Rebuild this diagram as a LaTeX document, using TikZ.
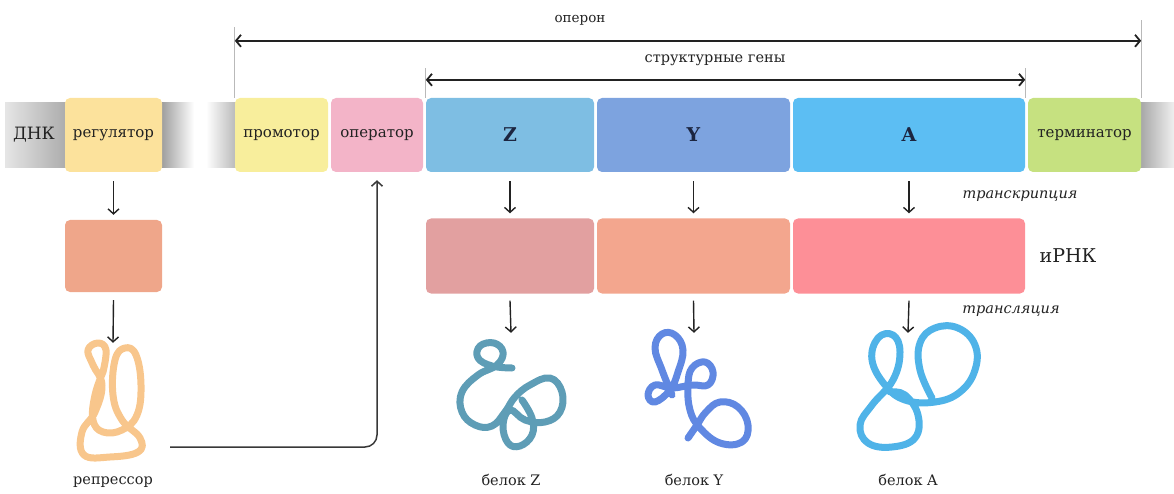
\documentclass[tikz,border=0pt]{standalone}
\usepackage{fontspec}
\setmainfont{DejaVu Serif}
\usetikzlibrary{positioning, arrows.meta}

\definecolor{ink}{HTML}{222222}
\definecolor{regcol}{HTML}{FCE29C}
\definecolor{promcol}{HTML}{F8EE9C}
\definecolor{opercol}{HTML}{F3B4C8}
\definecolor{zcol}{HTML}{7EBEE3}
\definecolor{ycol}{HTML}{7DA3DF}
\definecolor{acol}{HTML}{5CBEF3}
\definecolor{termcol}{HTML}{C6E180}
\definecolor{mregcol}{HTML}{EFA68A}
\definecolor{mzcol}{HTML}{E2A0A0}
\definecolor{mycol}{HTML}{F3A68E}
\definecolor{macol}{HTML}{FD8F97}
\definecolor{repcol}{HTML}{F8C68C}
\definecolor{protzcol}{HTML}{5E9DB6}
\definecolor{protycol}{HTML}{6088E2}
\definecolor{protacol}{HTML}{4FB3E8}
\definecolor{lettercol}{HTML}{1C2540}

\begin{document}
\begin{tikzpicture}[
    x=1pt, y=1pt,
    every node/.style = {text=ink},
    gene/.style       = {rectangle, rounded corners=5pt, minimum height=74pt,
                         inner sep=0pt, font=\fontsize{15}{17}\selectfont},
    mrna/.style       = {rectangle, rounded corners=5pt, minimum height=75pt, inner sep=0pt},
    letter/.style     = {font=\fontsize{19}{21}\selectfont\bfseries, text=lettercol},
    txt/.style        = {font=\fontsize{14.5}{16}\selectfont},
    proc/.style       = {font=\fontsize{14.5}{16}\selectfont\itshape},
    protein/.style    = {minimum width=110pt, minimum height=110pt, inner sep=0pt},
    down/.style       = {-{Straight Barb[length=5pt,width=11pt]}, line width=1.4pt, ink},
    span/.style       = {{Straight Barb[length=5pt,width=12pt]}-{Straight Barb[length=5pt,width=12pt]},
                         line width=1.8pt, ink},
    guide/.style      = {gray!55, line width=0.7pt},
    link/.style       = {-{Straight Barb[length=5pt,width=11pt]}, line width=1.5pt, ink!90,
                         rounded corners=12pt},
    coil/.style       = {line width=7pt, line cap=round, line join=round, smooth, tension=0.7}
    ]
      \useasboundingbox (0,0) rectangle (1174,-494);

      % dna strand ----------------------------------------------
      \shade[left color=gray!20, right color=gray!65] (5,-103) rectangle (66,-168);
      \shade[left color=gray!75, right color=white]   (162,-103) rectangle (194,-168);
      \shade[left color=white, right color=gray!55]   (206,-103) rectangle (236,-168);
      \shade[left color=gray!70, right color=gray!12] (1140,-103) rectangle (1174,-168);
      \node[font=\fontsize{17}{19}\selectfont] (dna) at (34,-135) {ДНК};

      % genes -----------------------------------------------------
      \node[gene, fill=regcol,  minimum width=97pt]  (reg)  at (113.5,-135) {регулятор};
      \node[gene, fill=promcol, minimum width=93pt]  (prom) at (281.5,-135) {промотор};
      \node[gene, fill=opercol, minimum width=92pt]  (oper) at (377,-135)   {оператор};
      \node[gene, fill=zcol,    minimum width=168pt] (genZ) at (510,-135)   {};
      \node[gene, fill=ycol,    minimum width=193pt] (genY) at (693.5,-135) {};
      \node[gene, fill=acol,    minimum width=232pt] (genA) at (909,-135)   {};
      \node[gene, fill=termcol, minimum width=113pt] (term) at (1084.5,-135) {терминатор};
      \node[letter] at (genZ) {Z};
      \node[letter] at (genY) {Y};
      \node[letter] at (genA) {A};

      % operon brackets -------------------------------------------
      \draw[guide] (prom.north west) -- ++(0,71);
      \draw[guide] (term.north east) -- ++(0,78);
      \draw[span] ([yshift=57]prom.north west) -- ([yshift=57]term.north east);
      \node[font=\fontsize{13.5}{15}\selectfont] (operon) at (580,-20) {оперон};
      \draw[guide] (genZ.north west) -- ++(0,30);
      \draw[guide] (genA.north east) -- ++(0,30);
      \draw[span] ([yshift=18]genZ.north west) -- ([yshift=18]genA.north east);
      \node[txt] (struct) at (715,-60) {структурные гены};

      % mRNA --------------------------------------------------------
      \node[mrna, fill=mregcol, minimum width=97pt, minimum height=72pt] (mreg) at (113.5,-256) {};
      \node[mrna, fill=mzcol, minimum width=168pt] (mZ) at (510,-256)   {};
      \node[mrna, fill=mycol, minimum width=193pt] (mY) at (693.5,-256) {};
      \node[mrna, fill=macol, minimum width=232pt] (mA) at (909,-256)   {};
      \node[font=\fontsize{19}{21}\selectfont] (mlab) at (1068,-256) {иРНК};
      \node[proc] (transcr) at (1020,-196) {транскрипция};
      \node[proc] (transl)  at (1011,-311) {трансляция};

      % proteins ----------------------------------------------------
      \node[protein] (rep)   at (113,-398) {};
      \node[protein] (protZ) at (511,-388) {};
      \node[protein] (protY) at (694,-388) {};
      \node[protein] (protA) at (908,-388) {};
      \node[txt] (replab) at (113,-482) {репрессор};
      \node[txt] (labZ)   at (511,-480) {белок Z};
      \node[txt] (labY)   at (694,-480) {белок Y};
      \node[txt] (labA)   at (908,-480) {белок A};

      \draw[coil, repcol] plot coordinates {(103,-372) (95,-395) (93,-420) (103,-432) (122,-430)
          (137,-415) (141,-385) (136,-355) (125,-348) (115,-360) (113,-395) (122,-420)
          (140,-438) (138,-452) (110,-457) (84,-455) (82,-432) (95,-412) (102,-385)
          (93,-365) (88,-350) (98,-343) (106,-350) (103,-372)};
      \draw[coil, protzcol] plot coordinates {(512,-368) (492,-366) (478,-358) (480,-346)
          (494,-343) (503,-352) (497,-365) (478,-375) (462,-392) (462,-412) (475,-425)
          (492,-426) (505,-412) (515,-397) (530,-385) (550,-378) (562,-392) (560,-412)
          (545,-422) (525,-420) (510,-410) (503,-425) (508,-443) (520,-446) (532,-435)
          (532,-418) (522,-400)};
      \draw[coil, protycol] plot coordinates {(672,-395) (662,-370) (655,-348) (662,-334) (675,-335)
          (683,-350) (678,-372) (670,-390) (655,-402) (648,-395) (655,-385) (672,-388)
          (692,-385) (708,-385) (713,-372) (705,-362) (692,-368) (688,-385) (690,-410)
          (700,-428) (720,-443) (742,-442) (748,-425) (738,-407) (720,-402) (706,-412)
          (697,-425) (688,-438)};
      \draw[coil, protacol] plot coordinates {(932,-398) (920,-370) (920,-343) (935,-328) (958,-328)
          (975,-345) (975,-370) (960,-392) (935,-402) (905,-400) (885,-385) (872,-360)
          (878,-338) (893,-335) (900,-352) (893,-380) (872,-405) (860,-425) (868,-443)
          (892,-447) (915,-438) (918,-415) (905,-395) (890,-392)};

      % arrows ------------------------------------------------------
      \draw[down] ([yshift=-9]reg.south)  -- ([yshift=5]mreg.north);
      \draw[down] ([yshift=-9]genZ.south) -- ([yshift=5]mZ.north);
      \draw[down] ([yshift=-9]genY.south) -- ([yshift=5]mY.north);
      \draw[down] ([yshift=-9]genA.south) -- ([yshift=5]mA.north);
      \draw[down] ([yshift=-8]mreg.south) -- (rep.north);
      \draw[down] ([yshift=-7]mZ.south)   -- (protZ.north);
      \draw[down] ([yshift=-7]mY.south)   -- (protY.north);
      \draw[down] ([yshift=-7]mA.south)   -- (protA.north);

      \coordinate (repout) at (170,-447);
      \draw[link] (repout) -| ([yshift=-8]oper.south);
\end{tikzpicture}
\end{document}
